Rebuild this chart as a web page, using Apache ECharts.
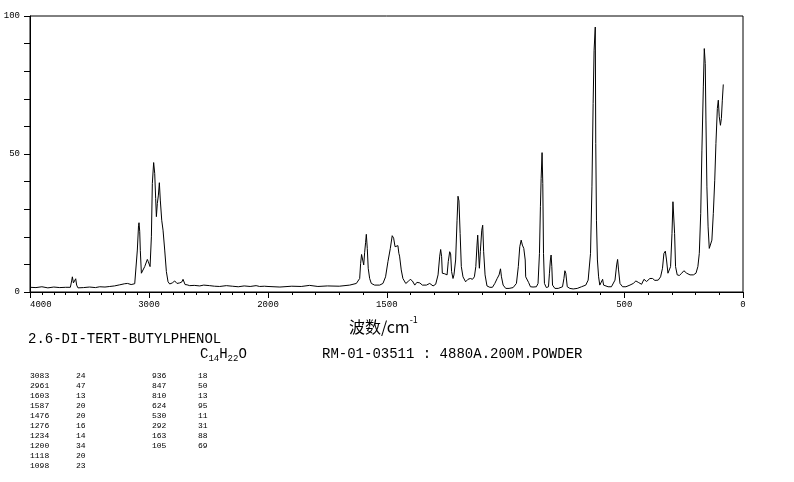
<!DOCTYPE html>
<html><head><meta charset="utf-8">
<script src="https://cdn.jsdelivr.net/npm/echarts@6/dist/echarts.min.js"></script>
<style>html,body{margin:0;padding:0;background:#fff}#c{width:794px;height:482px}</style>
</head><body><div id="c"></div>
<script>
// Raman spectrum of 2,6-di-tert-butylphenol: wavenumber (cm-1) and relative intensity
const wavenumbers = [
  4000,3950,3900,3850,3800,3750,3700,3661,3650,3644,3635,3624,3616,3608,3597,3550,3500,3450,3414,3370,
  3330,3290,3246,3204,3180,3168,3150,3134,3120,3112,3098,3088,3084,3078,3073,3064,3050,3036,3028,3014,
  3006,3000,2991,2980,2972,2961,2952,2944,2938,2930,2921,2913,2905,2893,2882,2868,2854,2840,2826,2815,
  2804,2790,2784,2775,2765,2742,2725,2714,2697,2680,2658,2620,2574,2540,2490,2450,2406,2350,2300,2250,
  2200,2150,2100,2070,2030,2000,
  1950,1900,1860,1825,1790,1750,1700,1656,1628,1614,1610,1606,1602,1597,1593,1589,1586,1582,1578,1572,
  1565,1551,1530,1516,1505,1495,1485,1477,1471,1465,1460,1453,1449,1446,1439,1432,1420,1411,1401,1392,
  1382,1373,1361,1350,1333,1319,1305,1294,1284,1277,1273,1269,1266,1256,1246,1241,1235,1231,1227,1221,
  1217,1210,1204,1200,1196,1191,1186,1179,1168,1158,1148,1139,1131,1125,1120,1117,1113,1110,1106,1100,
  1096,1092,1086,1078,1066,1055,1045,1035,1027,1021,1017,1010,999,985,968,954,946,940,934,929,
  923,917,915,912,908,903,895,884,870,863,857,853,850,846,843,840,836,828,819,815,
  811,808,805,802,792,778,760,754,750,746,740,729,715,698,680,662,652,642,636,631,
  627,622,620,617,613,608,603,597,591,587,580,568,554,539,532,528,524,518,507,493,
  476,462,451,441,427,417,406,392,381,371,357,347,339,333,327,322,316,310,305,299,
  295,291,288,284,277,268,258,249,237,223,209,198,190,184,178,173,167,163,159,156,
  152,147,142,136,131,125,119,114,108,104,100,95,91,87,83
];
const intensities = [
  1.7,1.6,1.9,1.5,1.8,1.6,1.7,1.7,4.0,5.5,3.3,3.5,4.8,2.5,1.5,1.6,1.8,1.6,1.9,1.8,
  2.0,2.2,2.6,3.0,3.1,3.6,2.7,2.6,3.0,3.4,15.2,24.0,25.1,22.0,15.0,6.8,7.4,9.2,8.6,11.8,
  11.0,11.6,9.2,20.0,39.3,46.9,43.0,33.9,27.3,32.1,35.1,39.6,33.3,26.0,22.4,15.2,7.4,3.7,2.9,3.0,
  3.3,3.0,4.0,3.3,3.1,3.3,3.6,4.6,2.7,2.6,2.3,2.4,2.2,2.5,2.3,2.1,2.0,2.3,2.1,1.9,
  2.2,2.0,2.3,2.0,2.1,2.0,
  1.8,2.1,2.0,2.4,2.0,2.2,2.1,2.5,3.1,4.9,10.4,13.6,14.0,9.8,14.4,18.0,20.9,15.8,8.6,4.9,
  3.1,2.5,2.5,3.1,5.5,11.0,15.8,20.4,19.5,16.4,16.6,16.8,14.0,13.0,8.0,4.9,3.1,3.7,4.6,4.0,
  2.5,3.5,3.3,2.5,2.5,3.1,2.2,2.8,6.2,13.0,15.4,12.8,6.8,6.6,6.2,11.0,14.6,13.8,7.4,4.9,
  6.2,11.6,26.0,34.7,33.0,21.2,9.2,5.5,3.7,4.6,4.9,4.6,5.5,9.2,17.0,20.6,13.4,8.6,14.6,22.4,
  24.2,14.6,6.2,2.2,1.7,1.7,3.1,4.9,6.2,8.4,5.5,2.5,1.3,1.3,1.6,3.1,9.2,16.4,18.8,17.0,
  15.8,11.6,5.5,5.0,5.3,3.5,1.9,1.8,1.9,3.1,14.0,30.9,41.1,50.5,39.3,14.0,3.1,1.6,1.9,6.8,
  11.6,13.4,9.2,2.5,1.3,1.3,1.9,4.9,7.7,6.8,1.9,1.3,1.1,1.3,1.9,2.5,4.3,14.0,38.1,68.3,
  87.6,96.0,53.8,26.0,11.6,5.5,2.5,3.0,4.6,2.5,1.9,1.9,1.9,4.3,9.8,11.8,8.0,3.1,1.9,1.9,
  2.5,3.1,4.0,3.5,2.8,4.6,3.8,4.9,4.9,4.2,4.3,5.5,8.6,14.0,14.8,11.6,6.8,6.5,9.2,21.2,
  32.7,32.7,21.2,9.2,6.2,6.0,6.8,7.7,6.8,6.2,6.2,6.8,9.2,14.0,28.5,51.4,74.3,88.2,82.8,62.3,
  38.1,23.6,15.8,15.6,18.8,28.5,40.5,53.8,66.5,69.5,63.5,60.4,62.9,69.5,75.2
];
const yTickLabels = [0, 50, 100];
const xTickLabelsHigh = [4000, 3000];
const xTickLabelsLow = [2000, 1500, 500, 0];
const compoundName = '2.6-DI-TERT-BUTYLPHENOL';
const formulaParts = [['C', '14'], ['H', '22'], ['O', '']];
const sampleInfo = 'RM-01-03511 : 4880A.200M.POWDER';
const peakWavenumbers = [3083, 2961, 1603, 1587, 1476, 1276, 1234, 1200, 1118, 1098, 936, 847, 810, 624, 530, 292, 163, 105];
const peakIntensities = [24, 47, 13, 20, 20, 16, 14, 34, 20, 23, 18, 50, 13, 95, 11, 31, 88, 69];
const axisTitle = '波数/cm';
const axisTitleSup = '-1';

const BREAK = 2000;
const highData = [], lowData = [];
wavenumbers.forEach((w, i) => {
  if (w >= BREAK) highData.push([w, intensities[i]]);
  if (w <= BREAK) lowData.push([w, intensities[i]]);
});

const black = '#000';
const tickFont = { color: black, fontSize: 9, fontFamily: 'Liberation Mono' };
const monoFont = 'Liberation Mono';

const graphic = [];
graphic.push({
  type: 'text', x: 349, y: 325,
  style: {
    text: '{a|' + axisTitle + '}{s|' + axisTitleSup + '}',
    fill: black, verticalAlign: 'middle', align: 'left',
    rich: {
      a: { fontSize: 16, fontFamily: 'Noto Sans CJK SC', lineHeight: 20, verticalAlign: 'bottom' },
      s: { fontSize: 9, fontFamily: 'Noto Sans CJK SC', lineHeight: 20, verticalAlign: 'top' }
    }
  }
});
graphic.push({
  type: 'text', x: 28, y: 339,
  style: { text: compoundName, fill: black, font: '14px ' + monoFont, verticalAlign: 'middle', align: 'left' }
});
graphic.push({
  type: 'text', x: 200, y: 355,
  style: {
    text: formulaParts.map(p => '{n|' + p[0] + '}' + (p[1] ? '{s|' + p[1] + '}' : '')).join(''),
    fill: black, verticalAlign: 'middle', align: 'left',
    rich: {
      n: { fontSize: 14, fontFamily: monoFont, lineHeight: 16, verticalAlign: 'top' },
      s: { fontSize: 9, fontFamily: monoFont, lineHeight: 16, verticalAlign: 'bottom' }
    }
  }
});
graphic.push({
  type: 'text', x: 322, y: 354,
  style: { text: sampleInfo, fill: black, font: '14px ' + monoFont, verticalAlign: 'middle', align: 'left' }
});
const colX = [[30, 76], [152, 198]];
peakWavenumbers.forEach((w, i) => {
  const col = i < 10 ? 0 : 1;
  const row = i < 10 ? i : i - 10;
  const y = 376 + row * 10;
  graphic.push({ type: 'text', x: colX[col][0], y: y,
    style: { text: String(w), fill: black, font: '8px ' + monoFont, verticalAlign: 'middle', align: 'left' } });
  graphic.push({ type: 'text', x: colX[col][1], y: y,
    style: { text: String(peakIntensities[i]), fill: black, font: '8px ' + monoFont, verticalAlign: 'middle', align: 'left' } });
});

const chart = echarts.init(document.getElementById('c'), null, { renderer: 'canvas' });
chart.setOption({
  animation: false,
  backgroundColor: '#fff',
  grid: [
    { left: 30, top: 16, width: 238, height: 276, outerBoundsMode: 'none', containLabel: false },
    { left: 268, top: 16, width: 475, height: 276, outerBoundsMode: 'none', containLabel: false },
    { left: 30, top: 16, width: 713, height: 276, outerBoundsMode: 'none', containLabel: false,
      show: true, borderColor: black, borderWidth: 1, backgroundColor: 'transparent' }
  ],
  xAxis: [
    { type: 'value', gridIndex: 0, min: 2000, max: 4000, inverse: true, interval: 1000,
      axisLine: { show: true, onZero: false, lineStyle: { color: black, width: 1 } },
      axisTick: { show: true, length: 6, lineStyle: { color: black } },
      minorTick: { show: true, splitNumber: 10, length: 3, lineStyle: { color: black } },
      splitLine: { show: false },
      axisLabel: Object.assign({ margin: 8, alignMaxLabel: 'left',
        formatter: v => xTickLabelsHigh.includes(v) ? String(v) : '' }, tickFont) },
    { type: 'value', gridIndex: 1, min: 0, max: 2000, inverse: true, interval: 100,
      axisLine: { show: true, onZero: false, lineStyle: { color: black, width: 1 } },
      axisTick: { show: true, length: 3, lineStyle: { color: black } },
      splitLine: { show: false },
      axisLabel: Object.assign({ margin: 8,
        formatter: v => xTickLabelsLow.includes(v) ? String(v) : '' }, tickFont) },
    { type: 'value', gridIndex: 1, min: 0, max: 2000, inverse: true, position: 'bottom',
      axisLine: { show: false },
      axisTick: { show: true, length: 6, customValues: xTickLabelsLow, lineStyle: { color: black } },
      splitLine: { show: false },
      axisLabel: { show: false } },
    { type: 'value', gridIndex: 2, min: 0, max: 1, show: false }
  ],
  yAxis: [
    { type: 'value', gridIndex: 0, min: 0, max: 100, interval: 10,
      axisLine: { show: true, onZero: false, lineStyle: { color: black, width: 1 } },
      axisTick: { show: true, length: 6, lineStyle: { color: black } },
      splitLine: { show: false },
      axisLabel: Object.assign({ margin: 10,
        formatter: v => yTickLabels.includes(v) ? String(v) : '' }, tickFont) },
    { type: 'value', gridIndex: 1, min: 0, max: 100, show: false },
    { type: 'value', gridIndex: 2, min: 0, max: 100, show: false }
  ],
  series: [
    { type: 'line', xAxisIndex: 0, yAxisIndex: 0, data: highData, showSymbol: false, symbol: 'none',
      lineStyle: { color: black, width: 1 }, silent: true, z: 3 },
    { type: 'line', xAxisIndex: 1, yAxisIndex: 1, data: lowData, showSymbol: false, symbol: 'none',
      lineStyle: { color: black, width: 1 }, silent: true, z: 3 }
  ],
  graphic: graphic
});
</script></body></html>
